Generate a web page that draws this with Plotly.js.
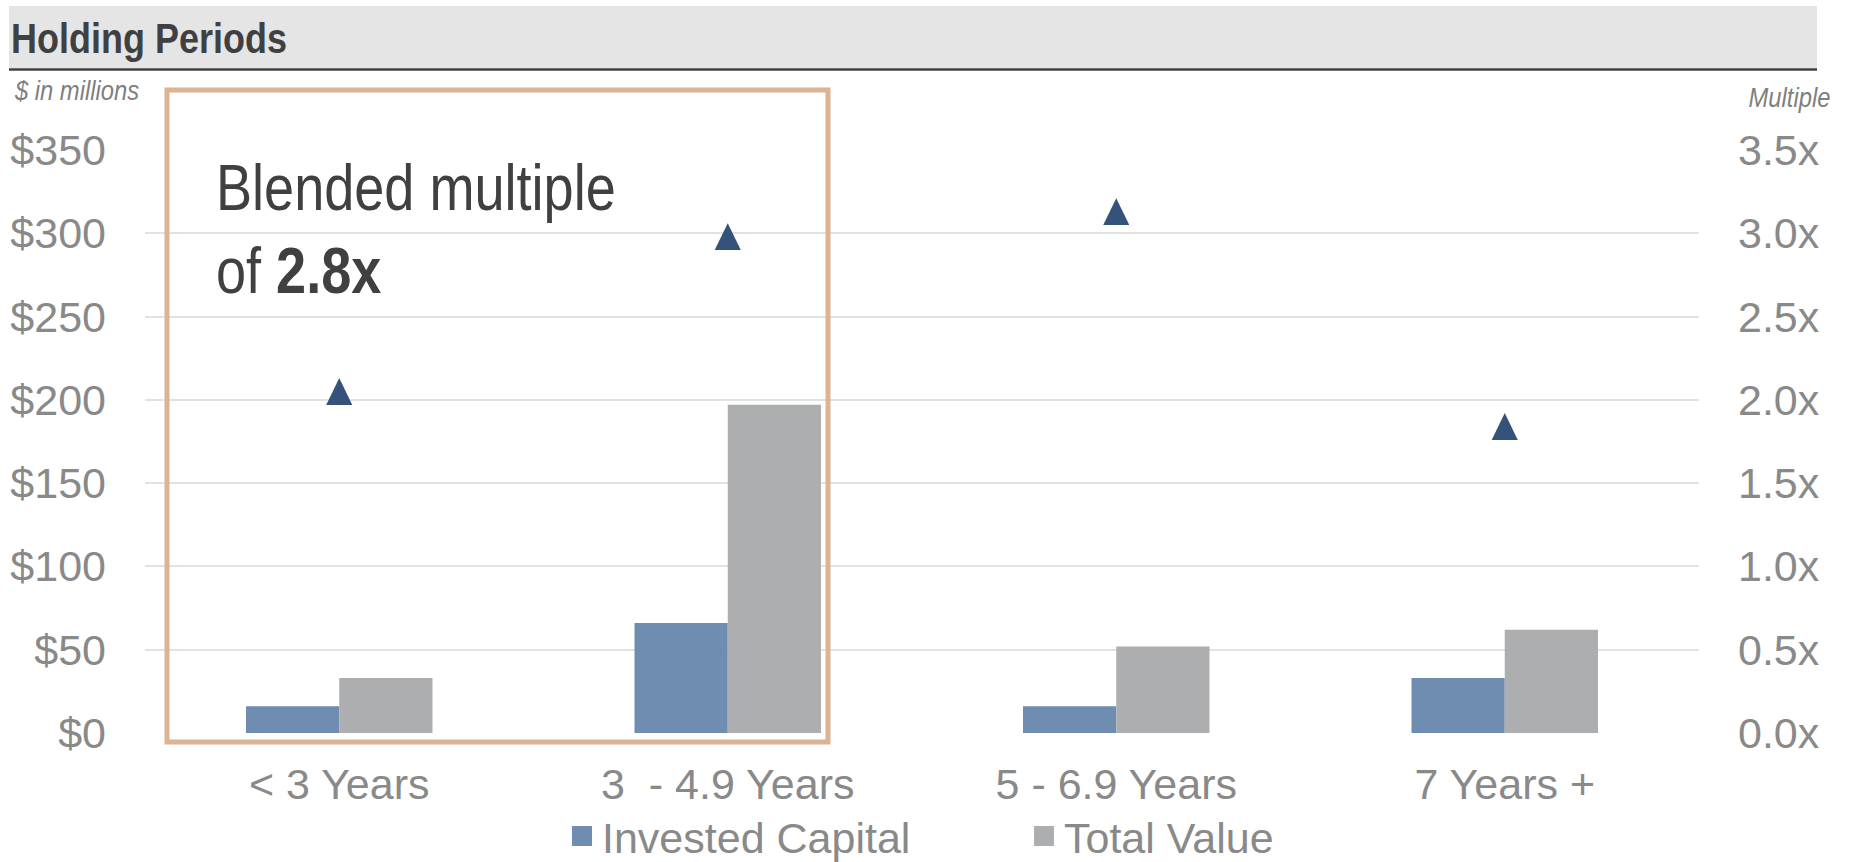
<!DOCTYPE html>
<html>
<head>
<meta charset="utf-8">
<script src="https://cdn.plot.ly/plotly-3.0.1.min.js"></script>
<style>
  html, body { margin: 0; padding: 0; background: #ffffff; }
  #chart { width: 1850px; height: 862px; }
</style>
</head>
<body>
<div id="chart"></div>
<script>
// ---- data ----
const categories = ['< 3 Years', '3\u00a0 - 4.9 Years', '5 - 6.9 Years', '7 Years +'];
const investedCapital = [16, 66, 16, 33];
const totalValue = [33, 197, 52, 62];
const multiples = [2.05, 2.98, 3.13, 1.84];
const leftTickVals = [0, 50, 100, 150, 200, 250, 300, 350];
const leftTickText = ['$0', '$50', '$100', '$150', '$200', '$250', '$300', '$350'];
const rightTickVals = [0, 0.5, 1.0, 1.5, 2.0, 2.5, 3.0, 3.5];
const rightTickText = ['0.0x', '0.5x', '1.0x', '1.5x', '2.0x', '2.5x', '3.0x', '3.5x'];
const seriesNames = ['Invested Capital', 'Total Value', 'Multiple'];
const chartTitle = 'Holding Periods';
const leftUnit = '$ in millions';
const rightUnit = 'Multiple';
const calloutText = 'Blended multiple<br>of <b>2.8x</b>';

// ---- layout geometry (pixels) ----
const W = 1850, H = 862;
const M = {l: 145, r: 151, t: 150, b: 129};
const PW = W - M.l - M.r, PH = H - M.t - M.b;
const px2x = p => (p - M.l) / PW;
const py2y = p => (H - M.b - p) / PH;

const regFont = 'Liberation Sans, Arial, sans-serif';
const gray = '#898989';

const traces = [
  {
    type: 'bar', name: seriesNames[0], x: categories, y: investedCapital,
    marker: {color: '#6f8db1', line: {width: 0}}, hoverinfo: 'skip'
  },
  {
    type: 'bar', name: seriesNames[1], x: categories, y: totalValue,
    marker: {color: '#adaeb0', line: {width: 0}}, hoverinfo: 'skip'
  },
  {
    type: 'scatter', mode: 'markers', name: seriesNames[2], x: categories, y: multiples,
    yaxis: 'y2', showlegend: false, hoverinfo: 'skip',
    marker: {symbol: 'triangle-up', size: 26, color: '#35537a'}
  }
];

const layout = {
  width: W, height: H,
  margin: M,
  paper_bgcolor: '#ffffff', plot_bgcolor: '#ffffff',
  showlegend: true,
  barmode: 'group', bargap: 0.52, bargroupgap: 0,
  title: {
    text: '<b>' + chartTitle + '</b>',
    font: {family: regFont, size: 42, color: '#404040'},
    x: 11 / W, xanchor: 'left', xref: 'container',
    y: 1 - 38 / H, yanchor: 'middle', yref: 'container'
  },
  xaxis: {
    type: 'category', showgrid: false, zeroline: false, showline: false, automargin: false,
    ticks: 'outside', ticklen: 13, tickcolor: 'rgba(0,0,0,0)',
    tickfont: {family: regFont, size: 43, color: gray}
  },
  yaxis: {
    range: [0, 350], tickvals: leftTickVals, ticktext: leftTickText, automargin: false,
    showgrid: true, gridcolor: '#e2e2e2', gridwidth: 2,
    zeroline: false, showline: false,
    ticklabelstandoff: 38,
    tickfont: {family: regFont, size: 43, color: gray}
  },
  yaxis2: {
    overlaying: 'y', side: 'right', range: [0, 3.5], tickvals: rightTickVals, ticktext: rightTickText,
    showgrid: false, zeroline: false, showline: false, automargin: false,
    ticklabelstandoff: 38,
    tickfont: {family: regFont, size: 43, color: gray}
  },
  legend: {
    orientation: 'h', xref: 'container', yref: 'container',
    x: 562 / W, xanchor: 'left', y: 1 - 836 / H, yanchor: 'middle',
    entrywidth: 417, entrywidthmode: 'pixels',
    font: {family: regFont, size: 43, color: gray},
    bgcolor: 'rgba(0,0,0,0)', traceorder: 'normal'
  },
  shapes: [
    // title band
    {type: 'rect', xref: 'paper', yref: 'paper', x0: px2x(9), x1: px2x(1817), y0: py2y(68), y1: py2y(6),
     fillcolor: '#e5e5e5', line: {width: 0}, layer: 'below'},
    {type: 'line', xref: 'paper', yref: 'paper', x0: px2x(9), x1: px2x(1817), y0: py2y(69.5), y1: py2y(69.5),
     line: {color: '#404040', width: 2.5}},
    // white callout background
    {type: 'rect', xref: 'paper', yref: 'paper', x0: px2x(200), x1: px2x(667), y0: py2y(314), y1: py2y(140),
     fillcolor: '#ffffff', line: {width: 0}, layer: 'between'},
    // highlight box
    {type: 'rect', xref: 'paper', yref: 'paper', x0: px2x(167), x1: px2x(828), y0: py2y(742), y1: py2y(90),
     fillcolor: 'rgba(0,0,0,0)', line: {color: '#dcb393', width: 5}, layer: 'above'}
  ],
  annotations: [
    {xref: 'paper', yref: 'paper', x: px2x(12), y: py2y(90), xanchor: 'left', yanchor: 'middle',
     text: '<i>' + leftUnit + '</i>', showarrow: false,
     font: {family: regFont, size: 28, color: '#7f7f7f'}},
    {xref: 'paper', yref: 'paper', x: px2x(1832), y: py2y(97), xanchor: 'right', yanchor: 'middle',
     text: '<i>' + rightUnit + '</i>', showarrow: false,
     font: {family: regFont, size: 28, color: '#7f7f7f'}},
    {xref: 'paper', yref: 'paper', x: px2x(214), y: py2y(150), xanchor: 'left', yanchor: 'top',
     text: calloutText, showarrow: false, align: 'left',
     font: {family: regFont, size: 64, color: '#404040'}}
  ]
};

function squeeze(el, s, anchor) {
  if (!el) return;
  const bb = el.getBBox();
  const ox = anchor === 'right' ? bb.x + bb.width : bb.x;
  const t = el.getAttribute('transform') || '';
  el.setAttribute('transform', t + ' translate(' + ox + ',0) scale(' + s + ',1) translate(' + (-ox) + ',0)');
}

Plotly.newPlot('chart', traces, layout, {staticPlot: true, displayModeBar: false}).then(gd => {
  // larger legend swatches
  gd.querySelectorAll('.legend .legendpoints path').forEach(p => {
    p.setAttribute('d', 'M10,10H-10V-10H10Z');
  });
  // taller triangle markers
  gd.querySelectorAll('.scatterlayer .points path').forEach(p => {
    const t = p.getAttribute('transform') || '';
    p.setAttribute('transform', t + ' translate(0,4.5) scale(0.87,1.38)');
  });
  // condensed lettering like the original narrow typeface
  squeeze(gd.querySelector('.gtitle'), 0.857, 'left');
  const ann = gd.querySelectorAll('.annotation-text');
  squeeze(ann[0], 0.85, 'left');
  squeeze(ann[1], 0.85, 'right');
  squeeze(ann[2], 0.845, 'left');
});
</script>
</body>
</html>
